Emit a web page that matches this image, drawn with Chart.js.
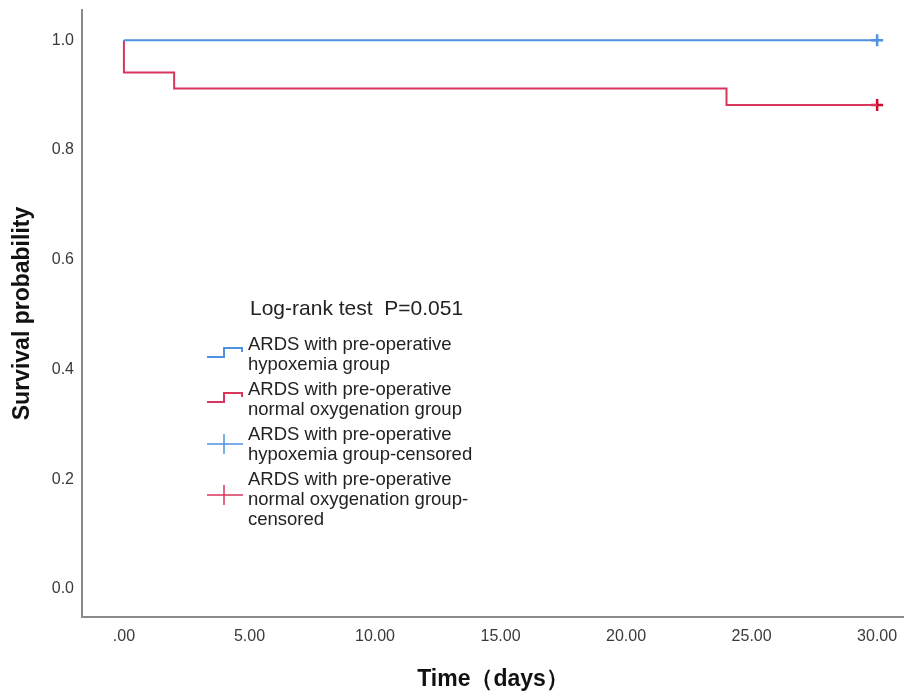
<!DOCTYPE html>
<html>
<head>
<meta charset="utf-8">
<script src="https://cdn.jsdelivr.net/npm/chart.js@4.4.0/dist/chart.umd.min.js"></script>
<style>
  html, body { margin: 0; padding: 0; background: #fff; }
  #wrap { width: 904px; height: 695px; }
</style>
</head>
<body>
<div id="wrap"><canvas id="kmChart"></canvas></div>
<script>
// Kaplan-Meier steps
const hypoxTimes = [0, 30];
const hypoxSurv = [1.0, 1.0];
const normalTimes = [0, 0, 2, 24, 30];
const normalSurv = [1.0, 0.941, 0.912, 0.882, 0.882];
const censorTimes = [30, 30];
const censorSurv = [1.0, 0.882];

const xTicks = [0, 5, 10, 15, 20, 25, 30];
const xTickLabels = ['.00', '5.00', '10.00', '15.00', '20.00', '25.00', '30.00'];
const yTicks = [0, 0.2, 0.4, 0.6, 0.8, 1.0];

const blue = '#5092e2';
const red = '#d8365c';
const redMark = '#d0082e';
const FONT = '"Liberation Sans", Arial, sans-serif';

const legendItems = [
    { kind: 'step', color: blue, lines: ['ARDS with pre-operative', 'hypoxemia group'] },
    { kind: 'step', color: red, lines: ['ARDS with pre-operative', 'normal oxygenation group'] },
    { kind: 'cross', color: blue, lines: ['ARDS with pre-operative', 'hypoxemia group-censored'] },
    { kind: 'cross', color: red, lines: ['ARDS with pre-operative', 'normal oxygenation group-', 'censored'] },
];

const pts = (xs, ys) => xs.map((x, i) => ({ x: x, y: ys[i] }));

// legend drawn inside the plot, like the SPSS output
const legendPlugin = {
    id: 'kmLegend',
    afterDraw(chart) {
        const ctx = chart.ctx;
        const a = chart.chartArea;
        const x0 = a.left + 125;
        let y = a.top + 299;
        ctx.save();
        ctx.fillStyle = '#222';
        ctx.textBaseline = 'middle';
        ctx.font = '21px ' + FONT;
        ctx.fillText('Log-rank test  P=0.051', x0 + 43, y);
        y += 36;
        ctx.font = '18.5px ' + FONT;
        const lh = 20;
        legendItems.forEach(item => {
            const n = item.lines.length;
            const c = y + lh / 2;
            ctx.strokeStyle = item.color;
            ctx.beginPath();
            if (item.kind === 'step') {
                ctx.lineWidth = 2;
                ctx.moveTo(x0, c + 2);
                ctx.lineTo(x0 + 17, c + 2);
                ctx.lineTo(x0 + 17, c - 7);
                ctx.lineTo(x0 + 35, c - 7);
                ctx.lineTo(x0 + 35, c - 3);
            } else {
                const cy = n === 3 ? y + lh * 0.75 : c - 1;
                ctx.lineWidth = 1.5;
                ctx.moveTo(x0, cy);
                ctx.lineTo(x0 + 36, cy);
                ctx.moveTo(x0 + 17, cy - 10);
                ctx.lineTo(x0 + 17, cy + 10);
            }
            ctx.stroke();
            ctx.fillStyle = '#222';
            item.lines.forEach((t, i) => ctx.fillText(t, x0 + 41, y + i * lh));
            y += n * lh + 5;
        });
        ctx.restore();
    }
};

const ctx = document.getElementById('kmChart').getContext('2d');
new Chart(ctx, {
    type: 'scatter',
    data: {
        datasets: [
            {
                label: 'ARDS with pre-operative hypoxemia group',
                data: pts(hypoxTimes, hypoxSurv),
                showLine: true,
                stepped: 'before',
                borderColor: blue,
                borderWidth: 2,
                pointRadius: 0,
            },
            {
                label: 'ARDS with pre-operative normal oxygenation group',
                data: pts(normalTimes, normalSurv),
                showLine: true,
                stepped: 'before',
                borderColor: red,
                borderWidth: 2,
                pointRadius: 0,
            },
            {
                label: 'censored',
                data: pts(censorTimes, censorSurv),
                showLine: false,
                pointStyle: 'cross',
                pointRadius: 6,
                pointBorderWidth: 2.5,
                pointBorderColor: [blue, redMark],
                pointBackgroundColor: [blue, redMark],
            },
        ]
    },
    options: {
        responsive: true,
        maintainAspectRatio: false,
        animation: false,
        layout: { autoPadding: false, padding: { top: 10, right: 0, left: 0, bottom: 0 } },
        plugins: {
            legend: { display: false },
            tooltip: { enabled: false },
        },
        scales: {
            x: {
                type: 'linear',
                min: -1.67,
                max: 31.07,
                afterBuildTicks: s => { s.ticks = xTicks.map(v => ({ value: v })); },
                afterFit: s => { s.height = 78; s.paddingLeft = 0; s.paddingRight = 0; },
                grid: { display: false, drawTicks: false },
                border: { display: true, color: '#8a8a8a', width: 2 },
                ticks: {
                    padding: 10,
                    color: '#3a3a3a',
                    font: { family: FONT, size: 16 },
                    callback: v => xTickLabels[xTicks.indexOf(v)],
                },
                title: {
                    display: true,
                    text: 'Time（days）',
                    color: '#111',
                    padding: { top: 10, bottom: 2 },
                    font: { family: FONT, size: 23, weight: 'bold' },
                },
            },
            y: {
                min: -0.051,
                max: 1.055,
                afterBuildTicks: s => { s.ticks = yTicks.map(v => ({ value: v })); },
                afterFit: s => { s.width = 82; s.paddingTop = 0; s.paddingBottom = 0; },
                grid: { display: false, drawTicks: false },
                border: { display: true, color: '#8a8a8a', width: 2 },
                ticks: {
                    padding: 8,
                    color: '#3a3a3a',
                    font: { family: FONT, size: 16 },
                    callback: v => v.toFixed(1),
                },
                title: {
                    display: true,
                    text: 'Survival probability',
                    color: '#111',
                    padding: { top: 9, bottom: 0 },
                    font: { family: FONT, size: 23, weight: 'bold' },
                },
            },
        },
    },
    plugins: [legendPlugin],
});
</script>
</body>
</html>
